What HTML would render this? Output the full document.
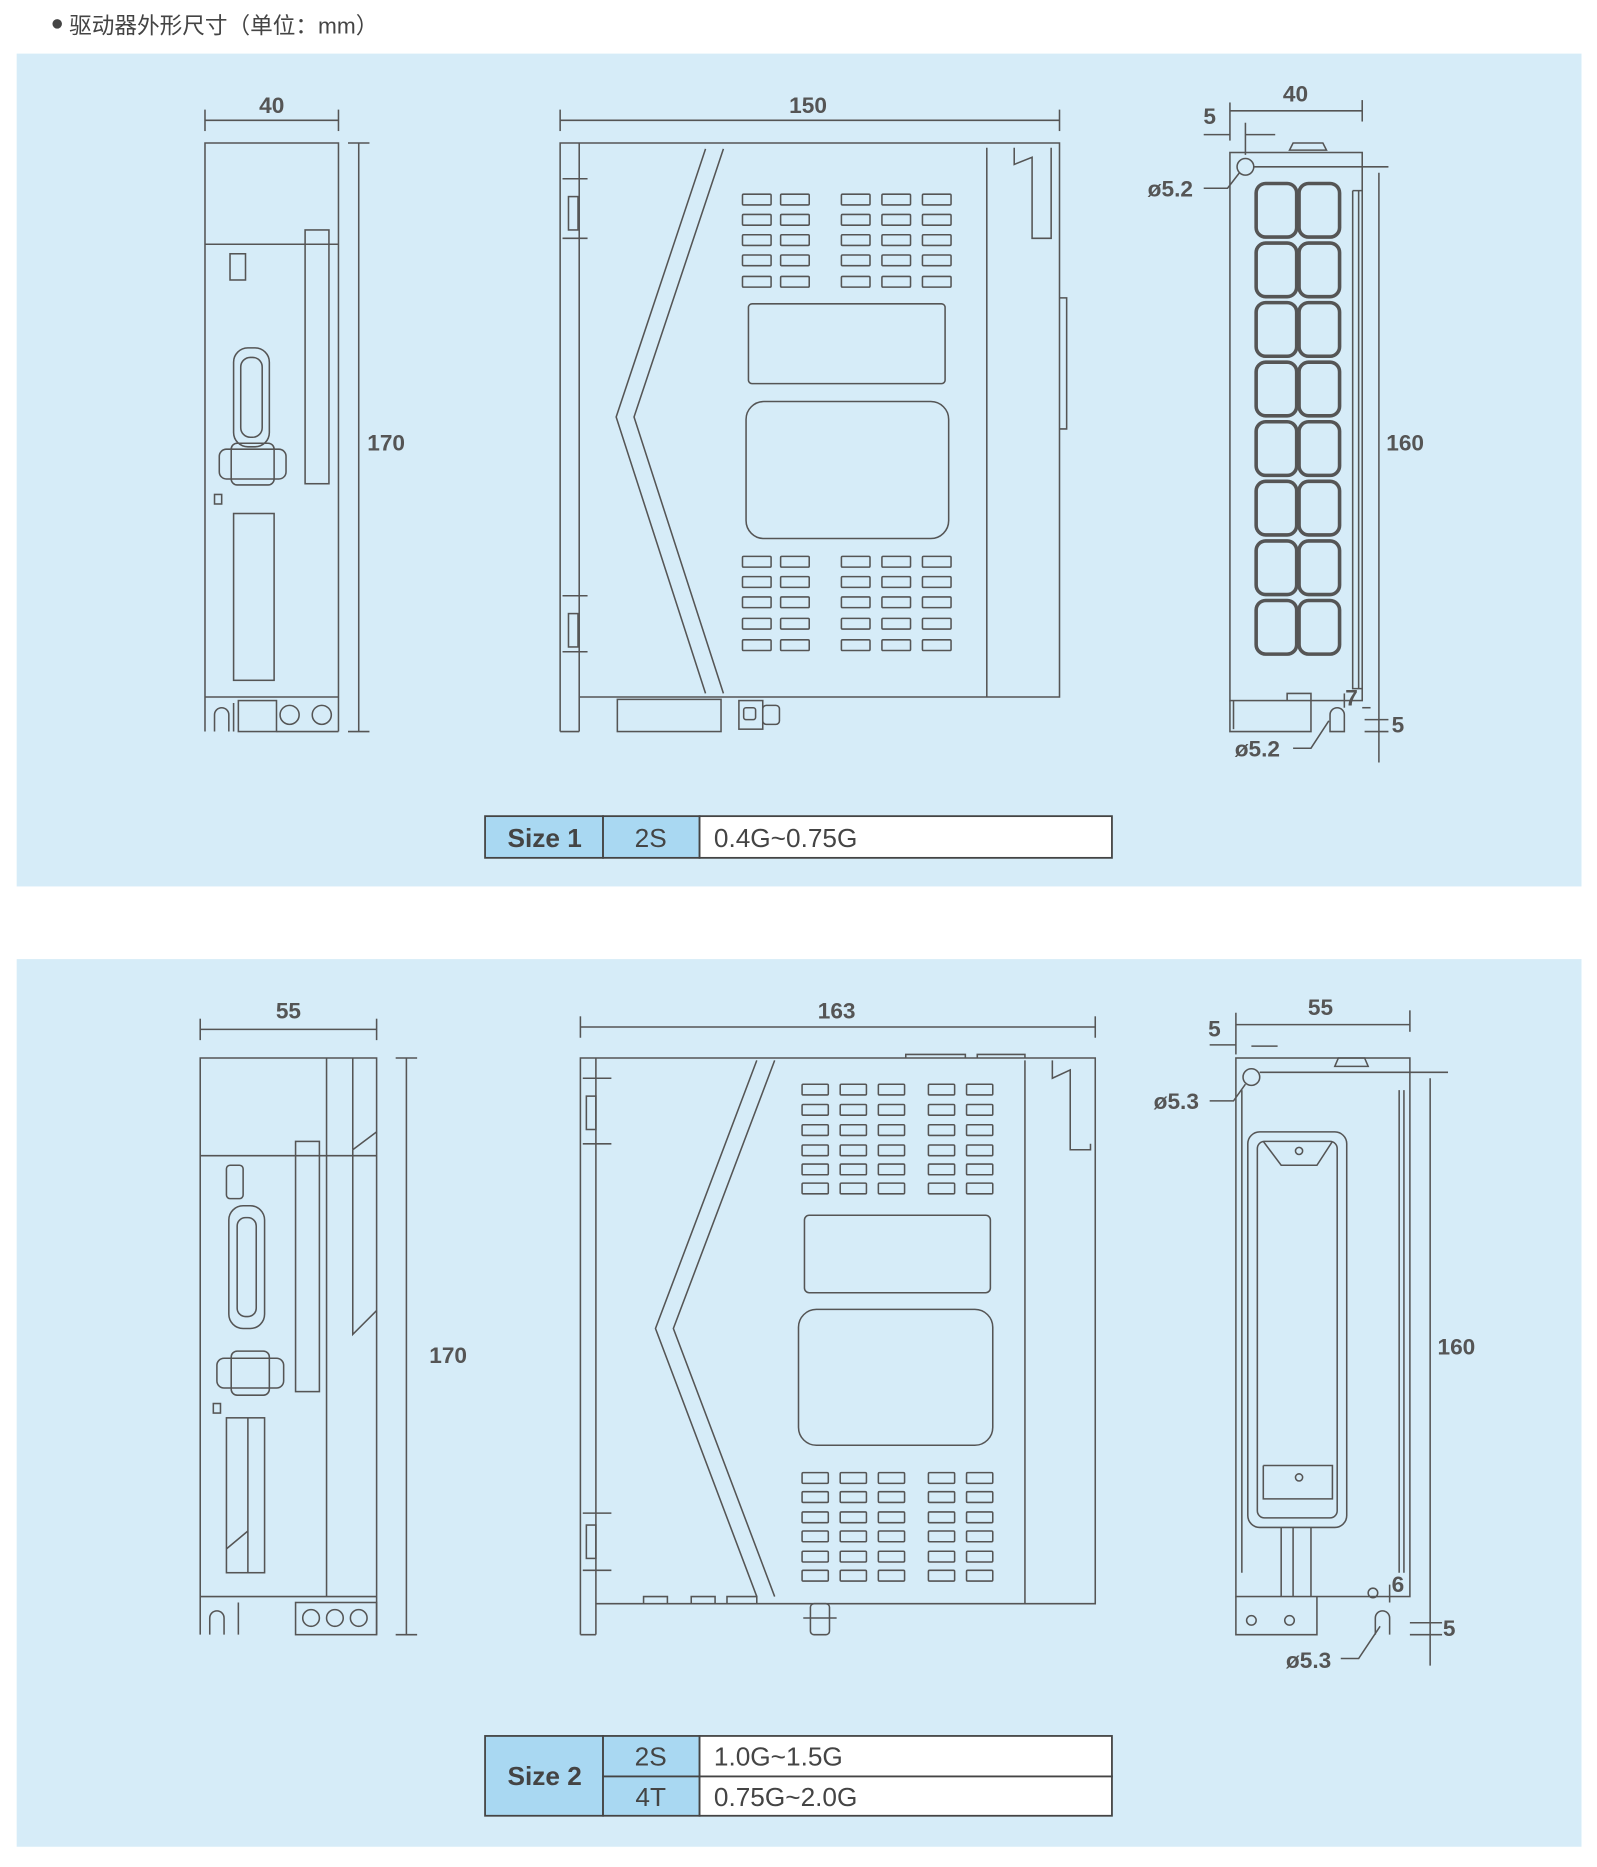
<!DOCTYPE html>
<html><head><meta charset="utf-8"><style>
html,body{margin:0;padding:0;background:#fff;}
svg{display:block;}
text{font-family:"Liberation Sans","Noto Sans CJK SC",sans-serif;fill:#444;}
.d{font-weight:bold;font-size:19px;fill:#555;}
</style></head><body>
<svg width="1597" height="1867" viewBox="0 0 1340 1567" preserveAspectRatio="none" xmlns="http://www.w3.org/2000/svg">
<defs>
<g id="r1" fill="none" stroke="#555" stroke-width="1.3">
<rect x="623" y="0" width="24" height="9" rx="1"/><rect x="655" y="0" width="24" height="9" rx="1"/>
<rect x="706" y="0" width="24" height="9" rx="1"/><rect x="740" y="0" width="24" height="9" rx="1"/><rect x="774" y="0" width="24" height="9" rx="1"/>
</g>
<g id="r2" fill="none" stroke="#555" stroke-width="1.3">
<rect x="673" y="0" width="22" height="9" rx="1"/><rect x="705" y="0" width="22" height="9" rx="1"/><rect x="737" y="0" width="22" height="9" rx="1"/>
<rect x="779" y="0" width="22" height="9" rx="1"/><rect x="811" y="0" width="22" height="9" rx="1"/>
</g>
<g id="sq" fill="none" stroke="#555" stroke-width="3"><rect x="1054" y="0" width="34" height="45" rx="8"/><rect x="1090" y="0" width="34" height="45" rx="8"/></g>
</defs>
<rect width="1340" height="1567" fill="#fff"/>
<circle cx="48" cy="20" r="4" fill="#444"/>
<text x="58" y="28" font-size="19">驱动器外形尺寸（单位：mm）</text>
<rect x="14" y="45" width="1313" height="699" fill="#d6ecf8"/>
<rect x="14" y="805" width="1313" height="745" fill="#d6ecf8"/>

<g fill="none" stroke="#555" stroke-width="1.3">
<line x1="172" y1="92" x2="172" y2="110"/><line x1="284" y1="92" x2="284" y2="110"/><line x1="172" y1="101" x2="284" y2="101"/>
<path d="M172 590 V120 H284 V614"/>
<line x1="172" y1="205" x2="284" y2="205"/>
<rect x="256" y="193" width="20" height="213"/>
<rect x="193" y="213" width="13" height="22"/>
<rect x="196" y="292" width="30" height="83" rx="12"/>
<rect x="202" y="300" width="18" height="67" rx="8"/>
<rect x="184" y="377" width="56" height="25" rx="6"/>
<rect x="194" y="372" width="36" height="35" rx="5"/>
<rect x="180" y="415" width="6" height="8"/>
<rect x="196" y="431" width="34" height="140"/>
<line x1="172" y1="585" x2="284" y2="585"/>
<rect x="200" y="588" width="32" height="26"/>
<circle cx="243" cy="600" r="8"/><circle cx="270" cy="600" r="8"/>
<path d="M172 590 V614 M180 614 V600 a6 6 0 0 1 12 0 V614 M196 590 V614 M284 614 H232"/>
<line x1="292" y1="120" x2="310" y2="120"/><line x1="292" y1="614" x2="310" y2="614"/><line x1="301" y1="120" x2="301" y2="614"/>

<line x1="470" y1="92" x2="470" y2="110"/><line x1="889" y1="92" x2="889" y2="110"/><line x1="470" y1="101" x2="889" y2="101"/>
<path d="M470 614 V120 H889 V585 H486"/>
<path d="M486 614 V120 M470 614 H486"/>
<line x1="828" y1="124" x2="828" y2="585"/>
<path d="M851 124 V138 L866 132 V200 H882 V124"/>
<path d="M889 250 H895 V360 H889"/>
<path d="M592 125 L517 350 L592 582 M607 125 L532 350 L607 582"/>
<rect x="477" y="165" width="8" height="28"/><rect x="477" y="515" width="8" height="28"/>
<line x1="472" y1="150" x2="493" y2="150"/><line x1="472" y1="200" x2="493" y2="200"/>
<line x1="472" y1="500" x2="493" y2="500"/><line x1="472" y1="547" x2="493" y2="547"/>
<rect x="628" y="255" width="165" height="67" rx="3"/>
<rect x="626" y="337" width="170" height="115" rx="15"/>
<rect x="518" y="587" width="87" height="27"/>
<rect x="620" y="588" width="20" height="24"/><rect x="640" y="592" width="14" height="16" rx="3"/>
<rect x="624" y="594" width="10" height="10" rx="2"/>

<line x1="1032" y1="86" x2="1032" y2="118"/><line x1="1143" y1="84" x2="1143" y2="102"/><line x1="1032" y1="93" x2="1143" y2="93"/>
<line x1="1010" y1="113" x2="1032" y2="113"/><line x1="1045" y1="113" x2="1070" y2="113"/><line x1="1045" y1="103" x2="1045" y2="130"/>
<rect x="1032" y="128" width="111" height="460"/>
<path d="M1032 588 V614 H1100 V588"/>
<path d="M1035 588 V612"/>
<path d="M1080 588 V582 H1100 V588"/>
<path d="M1082 126 L1085 120 H1110 L1113 126 Z"/>
<circle cx="1045" cy="140" r="7"/>
<line x1="1052" y1="140" x2="1165" y2="140"/>
<line x1="1157" y1="145" x2="1157" y2="640"/>
<path d="M1135 160 H1143 M1135 160 V578 H1143 M1140 160 V578"/>
<path d="M1116 614 V600 a6 6 0 0 1 12 0 V614 Z"/>
<path d="M1010 158 H1030 L1040 145"/>
<path d="M1085 628 H1100 L1115 605"/>
<line x1="1145" y1="604" x2="1165" y2="604"/><line x1="1145" y1="614" x2="1165" y2="614"/>
<line x1="1128" y1="594" x2="1128" y2="582"/><line x1="1143" y1="594" x2="1150" y2="594"/>

<line x1="168" y1="855" x2="168" y2="873"/><line x1="316" y1="855" x2="316" y2="873"/><line x1="168" y1="864" x2="316" y2="864"/>
<path d="M168 1372 V888 H316 V1372"/>
<line x1="274" y1="888" x2="274" y2="1340"/><line x1="296" y1="888" x2="296" y2="965"/>
<path d="M296 965 L316 950 M296 965 V1120 L316 1100"/>
<line x1="168" y1="970" x2="316" y2="970"/>
<rect x="248" y="958" width="20" height="210"/>
<rect x="190" y="978" width="14" height="28" rx="3"/>
<rect x="192" y="1012" width="30" height="103" rx="12"/>
<rect x="199" y="1022" width="16" height="83" rx="7"/>
<rect x="182" y="1140" width="56" height="25" rx="6"/>
<rect x="194" y="1134" width="32" height="37" rx="5"/>
<rect x="179" y="1178" width="6" height="8"/>
<rect x="190" y="1190" width="32" height="130"/>
<path d="M208 1190 V1320 M190 1300 L208 1285"/>
<line x1="168" y1="1340" x2="316" y2="1340"/>
<path d="M176 1372 V1358 a6 6 0 0 1 12 0 V1372 M200 1345 V1372"/>
<rect x="248" y="1345" width="68" height="27"/>
<circle cx="261" cy="1358" r="7"/><circle cx="281" cy="1358" r="7"/><circle cx="301" cy="1358" r="7"/>
<line x1="332" y1="888" x2="350" y2="888"/><line x1="332" y1="1372" x2="350" y2="1372"/><line x1="341" y1="888" x2="341" y2="1372"/>

<line x1="487" y1="853" x2="487" y2="871"/><line x1="919" y1="853" x2="919" y2="871"/><line x1="487" y1="862" x2="919" y2="862"/>
<path d="M487 1372 V888 H919 V1346 H500"/>
<path d="M500 1372 V888 M487 1372 H500"/>
<line x1="860" y1="890" x2="860" y2="1346"/>
<path d="M883 890 V905 L898 898 V965 H915 V960"/>
<path d="M640 890 L555 1115 L640 1340 M625 890 L540 1115 L625 1340" transform="translate(10,0)"/>
<rect x="492" y="920" width="8" height="28"/><rect x="492" y="1280" width="8" height="28"/>
<line x1="489" y1="905" x2="513" y2="905"/><line x1="489" y1="960" x2="513" y2="960"/>
<line x1="489" y1="1270" x2="513" y2="1270"/><line x1="489" y1="1318" x2="513" y2="1318"/>
<rect x="675" y="1020" width="156" height="65" rx="4"/>
<rect x="670" y="1099" width="163" height="114" rx="15"/>
<rect x="680" y="1346" width="16" height="26" rx="3"/><line x1="674" y1="1358" x2="702" y2="1358"/>
<path d="M540 1346 V1340 H560 V1346 M580 1346 V1340 H600 V1346 M610 1346 V1340 H635 V1346"/>
<path d="M760 888 V885 H810 V888 M820 888 V885 H860 V888"/>

<line x1="1037" y1="850" x2="1037" y2="885"/><line x1="1183" y1="848" x2="1183" y2="866"/><line x1="1037" y1="860" x2="1183" y2="860"/>
<line x1="1015" y1="877" x2="1037" y2="877"/><line x1="1050" y1="878" x2="1072" y2="878"/>
<rect x="1037" y="888" width="146" height="452"/>
<path d="M1037 1340 V1372 H1105 V1340"/>
<circle cx="1050" cy="1360" r="4"/><circle cx="1082" cy="1360" r="4"/>
<circle cx="1050" cy="904" r="7"/>
<line x1="1057" y1="900" x2="1215" y2="900"/>
<line x1="1200" y1="905" x2="1200" y2="1398"/>
<path d="M1120 895 L1123 888 H1145 L1148 895 Z"/>
<rect x="1047" y="950" width="83" height="332" rx="10"/>
<rect x="1055" y="958" width="67" height="316" rx="6"/>
<path d="M1060 958 L1075 978 H1105 L1118 958"/>
<circle cx="1090" cy="966" r="3"/>
<path d="M1060 1230 V1258 H1118 V1230 H1060"/>
<circle cx="1090" cy="1240" r="3"/>
<path d="M1075 1282 V1340 M1085 1282 V1340 M1100 1282 V1340"/>
<path d="M1042 915 V1320 M1174 915 V1320 M1178 915 V1320"/>
<path d="M1154 1372 V1358 a6 6 0 0 1 12 0 V1372"/>
<circle cx="1152" cy="1337" r="4"/>
<path d="M1015 924 H1035 L1045 910"/>
<path d="M1125 1392 H1140 L1158 1365"/>
<line x1="1183" y1="1362" x2="1210" y2="1362"/><line x1="1183" y1="1372" x2="1210" y2="1372"/>
<line x1="1166" y1="1330" x2="1166" y2="1345"/>
</g>

<use href="#r1" y="163"/><use href="#r1" y="180"/><use href="#r1" y="197"/><use href="#r1" y="214"/><use href="#r1" y="232"/>
<use href="#r1" y="467"/><use href="#r1" y="484"/><use href="#r1" y="501"/><use href="#r1" y="519"/><use href="#r1" y="537"/>
<use href="#r2" y="910"/><use href="#r2" y="927"/><use href="#r2" y="944"/><use href="#r2" y="961"/><use href="#r2" y="977"/><use href="#r2" y="993"/>
<use href="#r2" y="1236"/><use href="#r2" y="1252"/><use href="#r2" y="1269"/><use href="#r2" y="1285"/><use href="#r2" y="1302"/><use href="#r2" y="1318"/>
<use href="#sq" y="154"/><use href="#sq" y="204"/><use href="#sq" y="254"/><use href="#sq" y="304"/><use href="#sq" y="354"/><use href="#sq" y="404"/><use href="#sq" y="454"/><use href="#sq" y="504"/>

<text class="d" x="228" y="95" text-anchor="middle">40</text>
<text class="d" x="324" y="378" text-anchor="middle">170</text>
<text class="d" x="678" y="95" text-anchor="middle">150</text>
<text class="d" x="1087" y="85" text-anchor="middle">40</text>
<text class="d" x="1015" y="104" text-anchor="middle">5</text>
<text class="d" x="982" y="165" text-anchor="middle">ø5.2</text>
<text class="d" x="1179" y="378" text-anchor="middle">160</text>
<text class="d" x="1055" y="635" text-anchor="middle">ø5.2</text>
<text class="d" x="1134" y="592" text-anchor="middle">7</text>
<text class="d" x="1173" y="615" text-anchor="middle">5</text>

<text class="d" x="242" y="855" text-anchor="middle">55</text>
<text class="d" x="376" y="1144" text-anchor="middle">170</text>
<text class="d" x="702" y="855" text-anchor="middle">163</text>
<text class="d" x="1108" y="852" text-anchor="middle">55</text>
<text class="d" x="1019" y="870" text-anchor="middle">5</text>
<text class="d" x="987" y="931" text-anchor="middle">ø5.3</text>
<text class="d" x="1222" y="1137" text-anchor="middle">160</text>
<text class="d" x="1098" y="1400" text-anchor="middle">ø5.3</text>
<text class="d" x="1173" y="1336" text-anchor="middle">6</text>
<text class="d" x="1216" y="1373" text-anchor="middle">5</text>

<g stroke="#444" stroke-width="1.5">
<rect x="407" y="685" width="99" height="35" fill="#a9d8f2"/>
<rect x="506" y="685" width="81" height="35" fill="#a9d8f2"/>
<rect x="587" y="685" width="346" height="35" fill="#fff"/>
<rect x="407" y="1457" width="99" height="67" fill="#a9d8f2"/>
<rect x="506" y="1457" width="81" height="34" fill="#a9d8f2"/>
<rect x="506" y="1491" width="81" height="33" fill="#a9d8f2"/>
<rect x="587" y="1457" width="346" height="34" fill="#fff"/>
<rect x="587" y="1491" width="346" height="33" fill="#fff"/>
</g>
<g font-size="22">
<text x="457" y="711" text-anchor="middle" font-weight="bold" fill="#555">Size 1</text>
<text x="546" y="711" text-anchor="middle" fill="#555">2S</text>
<text x="599" y="711" fill="#444">0.4G~0.75G</text>
<text x="457" y="1498" text-anchor="middle" font-weight="bold" fill="#555">Size 2</text>
<text x="546" y="1482" text-anchor="middle" fill="#555">2S</text>
<text x="546" y="1516" text-anchor="middle" fill="#555">4T</text>
<text x="599" y="1482" fill="#444">1.0G~1.5G</text>
<text x="599" y="1516" fill="#444">0.75G~2.0G</text>
</g>
</svg>
</body></html>
